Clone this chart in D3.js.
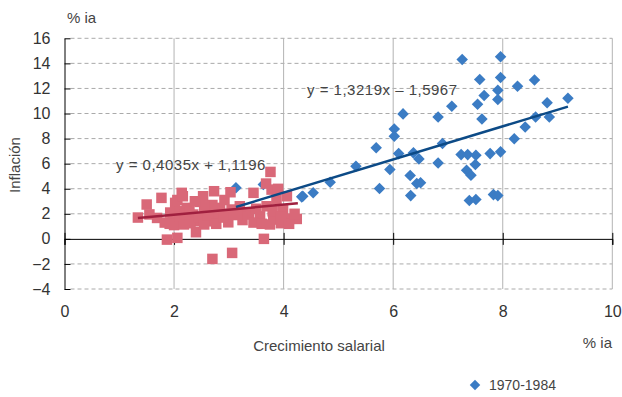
<!DOCTYPE html>
<html><head><meta charset="utf-8">
<script src="https://cdn.jsdelivr.net/npm/d3@7"></script>
<style>body{margin:0;background:#fff}svg{display:block;font-family:"Liberation Sans",Arial,sans-serif}</style>
</head><body><div id="chart"></div>
<script>
// Series 1970-1984 (blue diamonds): [wage growth, inflation]
const blueX = [7.26,7.96,7.58,7.96,8.27,8.58,7.91,7.66,7.91,7.54,7.07,6.82,7.62,8.81,9.19,8.85,8.60,8.41,8.21,6.18,6.02,6.02,5.69,5.32,4.85,6.90,6.10,6.37,6.47,7.24,7.36,7.51,7.77,7.96,6.82,5.94,7.50,7.34,7.42,6.31,5.75,6.43,6.50,4.54,4.35,6.32,7.39,7.51,7.83,7.91,3.13,3.63,4.33];
const blueY = [14.30,14.52,12.72,12.87,12.17,12.68,11.85,11.43,11.11,10.74,10.58,9.73,9.57,10.85,11.22,9.73,9.73,8.93,7.98,9.97,8.77,8.19,7.26,5.79,4.52,7.60,6.80,6.86,6.38,6.72,6.72,6.67,6.80,6.94,6.06,5.53,5.93,5.48,5.08,5.05,4.01,4.41,4.47,3.67,3.40,3.45,3.06,3.14,3.53,3.45,4.07,4.33,3.35];
// Later period (red squares)
const redX = [1.34,1.50,1.55,1.69,1.77,1.87,1.93,1.98,2.02,2.06,2.06,2.14,2.10,2.23,2.23,2.11,2.35,2.40,2.41,2.47,2.53,2.60,2.66,2.73,2.84,2.70,2.99,3.03,3.05,3.06,3.00,3.33,3.37,3.45,3.57,3.64,3.69,3.68,3.76,3.78,3.90,3.87,3.81,3.99,4.06,4.12,4.24,2.80,3.20,
  1.83,1.92,2.00,2.18,2.30,2.10,2.20,2.28,2.45,2.55,2.62,2.70,2.77,2.90,2.92,2.55,2.38,2.16,3.45,3.60,3.75,3.95,4.10,3.50,3.80,4.20,3.25,3.15,3.95];
const redY = [1.70,2.74,1.95,1.67,3.27,-0.06,2.10,1.60,2.87,0.08,3.10,3.67,2.20,2.47,1.40,1.60,1.94,0.53,1.40,2.95,3.40,2.34,1.40,3.80,2.47,-1.60,1.32,3.72,2.34,-1.12,2.00,2.07,1.94,3.67,1.80,0.00,2.60,4.41,5.34,3.93,3.99,3.14,1.54,2.34,3.40,1.60,1.59,1.90,2.60,
  1.30,1.20,1.10,1.15,1.25,1.80,2.00,2.20,1.70,1.15,1.90,2.70,1.20,1.70,3.10,2.60,3.00,3.40,1.30,1.20,1.15,1.25,1.20,2.40,2.20,2.00,1.50,1.90,1.80];
// Linear trend lines: slope, intercept, x extent
const blueTrend = {slope:1.3219, intercept:-1.5967, x0:3.13, x1:9.19, label:"y = 1,3219x – 1,5967"};
const redTrend = {slope:0.4035, intercept:1.1196, x0:1.34, x1:4.26, label:"y = 0,4035x + 1,1196"};
const xTicks = [0,2,4,6,8,10];
const yTicks = [-4,-2,0,2,4,6,8,10,12,14,16];
const legendLabel = "1970-1984";

const W=622,H=397;
const svg=d3.select("#chart").append("svg").attr("width",W).attr("height",H);
const x=d3.scaleLinear().domain([0,10]).range([64.5,612.3]);
const y=d3.scaleLinear().domain([-4,16]).range([289,38.3]);
const blue="#3b7cc4", red="#d96878", blueLine="#0c4a86", redLine="#a0203f";
const FF="Liberation Sans, Arial, sans-serif";

// horizontal dashed grid
svg.append("g").selectAll("line").data(yTicks.filter(d=>d!==0)).join("line")
  .attr("x1",x(0)+6).attr("x2",x(10)).attr("y1",d=>y(d)).attr("y2",d=>y(d))
  .attr("stroke","#aaa").attr("stroke-width",1).attr("stroke-dasharray","4,3");
// vertical solid grid
svg.append("g").selectAll("line").data(xTicks.filter(d=>d>0)).join("line")
  .attr("x1",d=>x(d)).attr("x2",d=>x(d)).attr("y1",y(16)).attr("y2",y(-4))
  .attr("stroke","#b3b3b3").attr("stroke-width",1);

// left axis
const ya=svg.append("g").attr("transform",`translate(${x(0)},0)`)
  .call(d3.axisLeft(y).tickValues(yTicks).tickSizeInner(-6).tickSizeOuter(0).tickPadding(14));
ya.select(".domain").attr("stroke","#000");
ya.selectAll(".tick line").attr("stroke","#000");
ya.selectAll(".tick text").attr("font-size",16).attr("fill","#333").attr("x",-14)
  .attr("font-family",FF);

// zero axis with crossing ticks
const xa=svg.append("g").attr("transform",`translate(0,${y(0)})`)
  .call(d3.axisBottom(x).tickValues(xTicks).tickSizeOuter(0).tickSize(6).tickFormat(""));
xa.select(".domain").attr("stroke","#000");
xa.selectAll(".tick line").attr("stroke","#000").attr("y1",-6).attr("y2",6);

// x tick labels
const xl=svg.append("g").attr("transform",`translate(0,${y(-4)})`)
  .call(d3.axisBottom(x).tickValues(xTicks).tickSize(0).tickPadding(17));
xl.select(".domain").remove();
xl.selectAll(".tick text").attr("font-size",16).attr("fill","#333")
  .attr("font-family",FF);

// points
const diamond=d3.symbol().type(d3.symbolDiamond2).size(70);
svg.append("g").selectAll("path").data(blueX.map((v,i)=>[v,blueY[i]])).join("path")
  .attr("d",diamond).attr("transform",d=>`translate(${x(d[0])},${y(d[1])}) scale(1.1,1.1)`).attr("fill",blue);
const sq=10.5;
svg.append("g").selectAll("rect").data(redX.map((v,i)=>[v,redY[i]])).join("rect")
  .attr("x",d=>x(d[0])-sq/2).attr("y",d=>y(d[1])-sq/2).attr("width",sq).attr("height",sq).attr("fill",red);

// trend lines
function trend(t,col){
  svg.append("line").attr("x1",x(t.x0)).attr("y1",y(t.slope*t.x0+t.intercept))
    .attr("x2",x(t.x1)).attr("y2",y(t.slope*t.x1+t.intercept))
    .attr("stroke",col).attr("stroke-width",2.5);
}
trend(blueTrend,blueLine);
trend(redTrend,redLine);

const txt=(s,px,py,opts={})=>{
  const t=svg.append("text").attr("x",px).attr("y",py).text(s)
    .attr("font-size",opts.size||15).attr("fill",opts.fill||"#444")
    .attr("text-anchor",opts.anchor||"start");
  if(opts.ls) t.attr("letter-spacing",opts.ls);
  if(opts.rotate) t.attr("transform",`rotate(-90,${px},${py})`);
  return t;
};
txt(redTrend.label,116,170,{ls:0.5});
txt(blueTrend.label,307,95,{ls:0.5});
txt("% ia",67,23);
txt("% ia",612,348,{anchor:"end"});
txt("Crecimiento salarial",319,351,{anchor:"middle"});
txt("Inflación",20,165,{anchor:"middle",rotate:true});

// legend
svg.append("path").attr("d",diamond).attr("transform",`translate(475,385)`).attr("fill",blue);
txt(legendLabel,489,390,{size:14});
</script></body></html>
